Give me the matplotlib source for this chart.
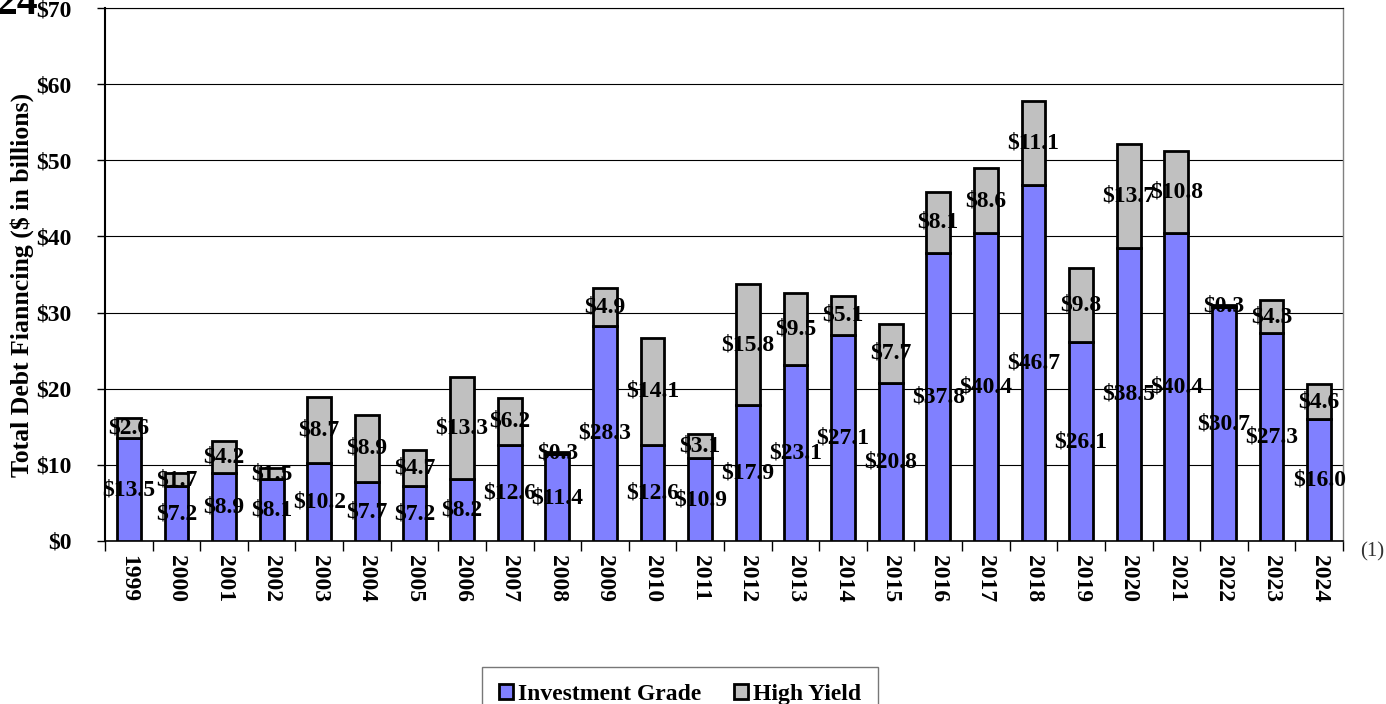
import numpy as np
import matplotlib
matplotlib.use("Agg")
import matplotlib.pyplot as plt
from matplotlib.ticker import FixedLocator, FuncFormatter

plt.rcParams['font.family'] = ['Liberation Serif', 'DejaVu Serif']

# data
years = ['1999', '2000', '2001', '2002', '2003', '2004', '2005', '2006', '2007',
         '2008', '2009', '2010', '2011', '2012', '2013', '2014', '2015', '2016',
         '2017', '2018', '2019', '2020', '2021', '2022', '2023', '2024']
inv_grade = [13.5, 7.2, 8.9, 8.1, 10.2, 7.7, 7.2, 8.2, 12.6, 11.4, 28.3, 12.6, 10.9,
             17.9, 23.1, 27.1, 20.8, 37.8, 40.4, 46.7, 26.1, 38.5, 40.4, 30.7, 27.3, 16.0]
high_yield = [2.6, 1.7, 4.2, 1.5, 8.7, 8.9, 4.7, 13.3, 6.2, 0.3, 4.9, 14.1, 3.1,
              15.8, 9.5, 5.1, 7.7, 8.1, 8.6, 11.1, 9.8, 13.7, 10.8, 0.3, 4.3, 4.6]
y_ticks = [0, 10, 20, 30, 40, 50, 60, 70]

W, H = 1386, 704
fig = plt.figure(figsize=(W / 100, H / 100), dpi=100)
ax = fig.add_axes([105 / W, 1 - 541 / H, (1343 - 105) / W, (541 - 8) / H])

x = np.arange(len(years))
ig = np.array(inv_grade)
hy = np.array(high_yield)

ax.set_axisbelow(True)
ax.grid(axis='y', color='black', linewidth=0.8)

b1 = ax.bar(x, ig, width=0.5, color='#8080FF', edgecolor='black', linewidth=2.0,
            label='Investment Grade', zorder=3)
b2 = ax.bar(x, hy, width=0.5, bottom=ig, color='#C0C0C0', edgecolor='black',
            linewidth=2.0, label='High Yield', zorder=3)

for i in range(len(years)):
    ax.text(x[i], ig[i] / 2, f'${ig[i]:.1f}', ha='center', va='center',
            fontsize=17, fontweight='bold', zorder=5)
    ax.text(x[i], ig[i] + hy[i] / 2, f'${hy[i]:.1f}', ha='center', va='center',
            fontsize=17, fontweight='bold', zorder=5)

ax.set_xlim(-0.5, len(years) - 0.5)
ax.set_ylim(0, 70)
ax.set_yticks(y_ticks)
ax.yaxis.set_major_formatter(FuncFormatter(lambda v, p: f'${v:.0f}'))
ax.tick_params(axis='y', length=6, width=1, pad=18, labelsize=17, direction='out')
for lab in ax.get_yticklabels():
    lab.set_fontweight('bold')

ax.set_xticks(x)
ax.set_xticklabels(years, rotation=-90, fontsize=17, fontweight='bold')
ax.tick_params(axis='x', which='major', length=0, pad=10)
ax.xaxis.set_minor_locator(FixedLocator(np.arange(-0.5, len(years), 1.0)))
ax.tick_params(axis='x', which='minor', length=7, width=1, direction='out')

ax.spines['left'].set_linewidth(1.5)
ax.spines['bottom'].set_linewidth(1.2)
ax.spines['top'].set_linewidth(0.8)
ax.spines['right'].set_color('#808080')
ax.spines['right'].set_linewidth(1.0)

fig.text(22 / W, 1 - 285 / H, 'Total Debt Fianncing ($ in billions)', rotation=90,
         ha='center', va='center', fontsize=18.5, fontweight='bold')
fig.text(1372 / W, 1 - 552 / H, '(1)', ha='center', va='center', fontsize=15,
         color='#333333')
fig.text(-4 / W, 1 - 14 / H, '24', ha='left', va='baseline', fontsize=30,
         fontweight='bold')

leg = fig.legend(handles=[b1, b2], loc='upper center', ncol=2,
                 bbox_to_anchor=(680 / W, 1 - 667 / H), frameon=True, fancybox=False,
                 prop={'size': 17, 'weight': 'bold'}, handlelength=0.6,
                 handleheight=0.6, handletextpad=0.2, columnspacing=1.4,
                 borderpad=0.7, borderaxespad=0)
leg.get_frame().set_edgecolor('#555555')
leg.get_frame().set_linewidth(1.0)

fig.savefig('out.png', dpi=100)
